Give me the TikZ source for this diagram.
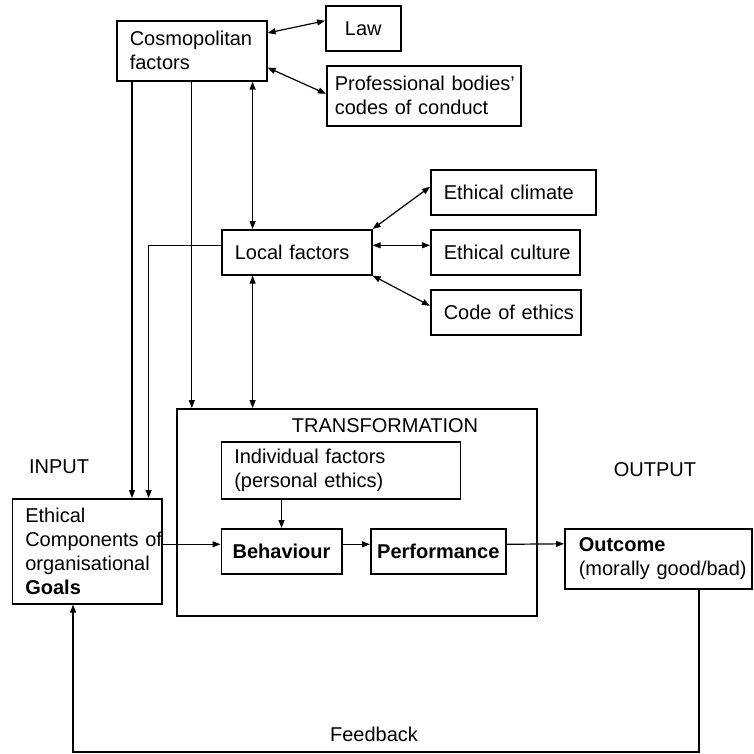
\documentclass[tikz,border=0pt]{standalone}
\usepackage{fontspec}
\setmainfont{Liberation Sans}
\usetikzlibrary{calc,arrows.meta}
\definecolor{ink}{HTML}{000000}
\tikzset{
  box/.style={draw=ink, line width=1.6pt, align=left, inner xsep=13pt, inner ysep=0pt, anchor=north west, font=\fontsize{20}{24}\selectfont},
  conn/.style={draw=ink, line width=1.2pt},
  arr/.style={conn, -{Triangle[length=8pt,width=6pt]}},
  dbl/.style={conn, {Triangle[length=8pt,width=6pt]}-{Triangle[length=8pt,width=6pt]}},
  lab/.style={text=ink, font=\fontsize{20}{24}\selectfont},
}
\begin{document}
\begin{tikzpicture}[x=1pt,y=-1pt]
  \useasboundingbox (0,0) rectangle (753,754);

  % factors outside the organisation
  \node[box, text width=124pt, minimum height=60pt] (cosmo) at (116,20) {Cosmopolitan\\factors};
  \node[box, align=center, text width=49pt, minimum height=45pt] (law) at (325,5) {Law};
  \node[box, inner xsep=8pt, text width=178pt, minimum height=60pt] (prof) at (326,65) {\mbox{Professional bodies'}\\\mbox{codes of conduct}};
  \node[box, text width=124pt, minimum height=45pt] (local) at (221,229) {Local factors};
  \node[box, text width=139pt, minimum height=45pt] (climate) at (430,169) {Ethical climate};
  \node[box, text width=123pt, minimum height=45pt] (culture) at (430,229) {\mbox{Ethical culture}};
  \node[box, text width=124pt, minimum height=45pt] (code) at (430,289) {\mbox{Code of ethics}};

  % input, transformation, output
  \node[box, minimum width=360pt, minimum height=207pt] (trans) at (176,408) {};
  \node[lab] (translab) at (385,426) {TRANSFORMATION};
  \node[box, text width=213pt, minimum height=57pt] (indiv) at (220.5,441) {Individual factors\\(personal ethics)};
  \node[box, align=center, inner xsep=10pt, text width=100.5pt, minimum height=45pt] (behav) at (220.5,528) {\textbf{Behaviour}};
  \node[box, align=center, inner xsep=5pt, text width=125pt, minimum height=45pt] (perf) at (370,528) {\textbf{Performance}};
  \node[box, text width=123.5pt, minimum height=105pt] (goals) at (11.5,498) {Ethical\\\mbox{Components of}\\organisational\\\textbf{Goals}};
  \node[box, inner xsep=14pt, text width=159pt, minimum height=60pt] (outcome) at (564,528) {\textbf{Outcome}\\\mbox{(morally good/bad)}};
  \node[lab] (input) at (59,467) {INPUT};
  \node[lab] (output) at (655,470) {OUTPUT};
  \node[lab] (feedback) at (374,734) {Feedback};
  \coordinate (fbcorner) at (0,752);

  \draw[dbl] ($(cosmo.north east)+(0,13)$) -- ($(law.west)+(0,-7.5)$);
  \draw[dbl] ($(cosmo.south east)+(0,-14)$) -- ($(prof.west)+(0,-2)$);
  \draw[dbl] ($(cosmo.south east)+(-15,0)$) coordinate (c1) -- (c1 |- local.north);
  \draw[dbl] (local.north east) -- ($(climate.west)+(0,-5.5)$);
  \draw[dbl] ($(local.east)+(0,-7)$) -- ($(culture.west)+(0,-7)$);
  \draw[dbl] (local.south east) -- ($(code.west)+(0,-6.5)$);

  \draw[arr] ($(cosmo.south west)+(16,0)$) coordinate (c2) -- (c2 |- goals.north);
  \draw[arr] (cosmo.south) -- (cosmo.south |- trans.north);
  \draw[arr] ($(local.west)+(0,-7)$) -| ($(goals.north east)+(-14,0)$);
  \draw[dbl] (c1 |- local.south) -- (c1 |- trans.north);

  \draw[arr] (behav.north |- indiv.south) -- (behav.north);
  \draw[arr] ($(behav.west)+(0,-7)$) coordinate (b1) (goals.east |- b1) -- (b1);
  \draw[arr] ($(behav.east)+(0,-7)$) -- ($(perf.west)+(0,-7)$);
  \draw[arr] ($(perf.east)+(0,-7)$) -- ($(outcome.west)+(0,-15)$);
  \draw[arr] ($(outcome.south west)+(135,0)$) coordinate (fb1) -- (fb1 |- fbcorner) -| ($(goals.south)+(-14,0)$);
\end{tikzpicture}
\end{document}
